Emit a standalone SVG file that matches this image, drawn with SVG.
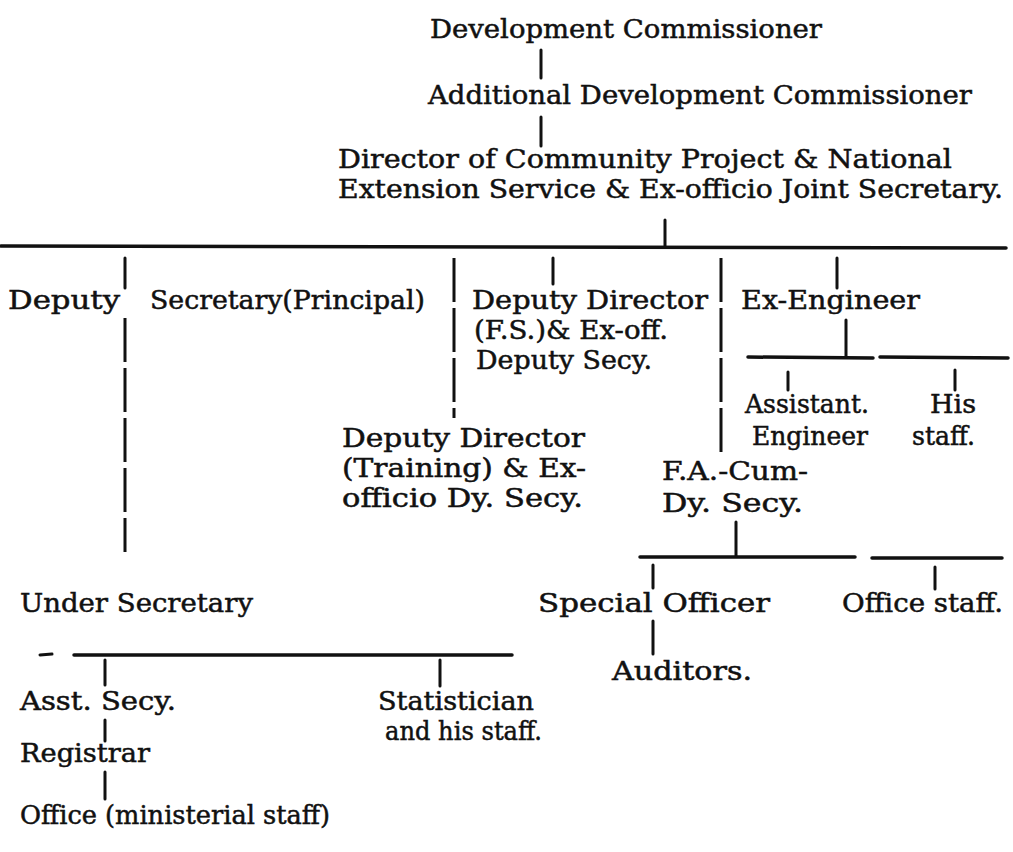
<svg xmlns="http://www.w3.org/2000/svg" width="1013" height="852" viewBox="0 0 1013 852">
<style>
text{font-family:"DejaVu Serif","Liberation Serif",serif;font-size:25.5px;fill:#111;stroke:#111;stroke-width:0.5}
.c line{stroke:#111;stroke-width:3;stroke-linecap:round}
.c .h{stroke-width:3.5}
.c .d{stroke-dasharray:44 6;stroke-linecap:butt}
</style>
<rect width="1013" height="852" fill="#fff"/>
<g class="c" id="connectors">
<line x1="541" y1="50" x2="541" y2="78"/>
<line x1="541" y1="117" x2="541" y2="146"/>
<line x1="665" y1="220" x2="665" y2="246"/>
<line class="h" x1="1" y1="246" x2="1006" y2="248"/>
<line x1="125" y1="258" x2="125" y2="288"/>
<line class="d" x1="125" y1="318" x2="125" y2="552"/>
<line class="d" x1="454" y1="258" x2="454" y2="418"/>
<line x1="553" y1="258" x2="553" y2="284"/>
<line class="d" x1="721" y1="258" x2="721" y2="456"/>
<line x1="837" y1="258" x2="837" y2="288"/>
<line x1="846" y1="320" x2="846" y2="356"/>
<line class="h" x1="748" y1="357" x2="873" y2="358"/>
<line class="h" x1="880" y1="357" x2="1008" y2="358"/>
<line x1="788" y1="372" x2="788" y2="390"/>
<line x1="955" y1="370" x2="955" y2="390"/>
<line x1="736" y1="522" x2="736" y2="556"/>
<line class="h" x1="640" y1="557" x2="855" y2="557"/>
<line class="h" x1="872" y1="558" x2="1002" y2="558"/>
<line x1="653" y1="565" x2="653" y2="588"/>
<line x1="935" y1="567" x2="935" y2="589"/>
<line x1="653" y1="621" x2="653" y2="654"/>
<line x1="40" y1="655" x2="52" y2="654"/>
<line class="h" x1="74" y1="655" x2="512" y2="655"/>
<line x1="105" y1="660" x2="105" y2="685"/>
<line x1="440" y1="660" x2="440" y2="686"/>
<line x1="105" y1="720" x2="105" y2="741"/>
<line x1="105" y1="772" x2="105" y2="799"/>
</g>
<g id="dev-commissioner"><text x="430" y="38" textLength="392" lengthAdjust="spacingAndGlyphs">Development Commissioner</text></g>
<g id="add-dev-commissioner"><text x="428" y="104" textLength="544" lengthAdjust="spacingAndGlyphs">Additional Development Commissioner</text></g>
<g id="director"><text x="338" y="168" textLength="614" lengthAdjust="spacingAndGlyphs">Director of Community Project &amp; National</text>
<text x="338" y="198" textLength="665" lengthAdjust="spacingAndGlyphs">Extension Service &amp; Ex-officio Joint Secretary.</text></g>
<g id="deputy-secretary"><text y="309"><tspan x="8" textLength="112" lengthAdjust="spacingAndGlyphs">Deputy</tspan><tspan x="150" textLength="275" lengthAdjust="spacingAndGlyphs">Secretary(Principal)</tspan></text></g>
<g id="deputy-director-fs"><text x="472" y="309" textLength="236" lengthAdjust="spacingAndGlyphs">Deputy Director</text>
<text x="474" y="339" textLength="194" lengthAdjust="spacingAndGlyphs">(F.S.)&amp; Ex-off.</text>
<text x="476" y="369" textLength="176" lengthAdjust="spacingAndGlyphs">Deputy Secy.</text></g>
<g id="ex-engineer"><text x="741" y="309" textLength="179" lengthAdjust="spacingAndGlyphs">Ex-Engineer</text></g>
<g id="assistant-engineer"><text x="745" y="413" textLength="124" lengthAdjust="spacingAndGlyphs">Assistant.</text>
<text x="752" y="445" textLength="116" lengthAdjust="spacingAndGlyphs">Engineer</text></g>
<g id="his-staff"><text x="930" y="413" textLength="46" lengthAdjust="spacingAndGlyphs">His</text>
<text x="912" y="445" textLength="63" lengthAdjust="spacingAndGlyphs">staff.</text></g>
<g id="deputy-director-training"><text x="342" y="447" textLength="243" lengthAdjust="spacingAndGlyphs">Deputy Director</text>
<text x="342" y="477" textLength="244" lengthAdjust="spacingAndGlyphs">(Training) &amp; Ex-</text>
<text x="342" y="507" textLength="241" lengthAdjust="spacingAndGlyphs">officio Dy. Secy.</text></g>
<g id="fa-cum-dy-secy"><text x="662" y="480" textLength="146" lengthAdjust="spacingAndGlyphs">F.A.-Cum-</text>
<text x="662" y="512" textLength="141" lengthAdjust="spacingAndGlyphs">Dy. Secy.</text></g>
<g id="under-secretary"><text x="20" y="612" textLength="233" lengthAdjust="spacingAndGlyphs">Under Secretary</text></g>
<g id="special-officer"><text x="538" y="612" textLength="232" lengthAdjust="spacingAndGlyphs">Special Officer</text></g>
<g id="office-staff"><text x="842" y="612" textLength="161" lengthAdjust="spacingAndGlyphs">Office staff.</text></g>
<g id="auditors"><text x="612" y="680" textLength="140" lengthAdjust="spacingAndGlyphs">Auditors.</text></g>
<g id="asst-secy"><text x="20" y="710" textLength="156" lengthAdjust="spacingAndGlyphs">Asst. Secy.</text></g>
<g id="statistician"><text x="378" y="710" textLength="156" lengthAdjust="spacingAndGlyphs">Statistician</text>
<text x="385" y="740" textLength="157" lengthAdjust="spacingAndGlyphs">and his staff.</text></g>
<g id="registrar"><text x="20" y="762" textLength="130" lengthAdjust="spacingAndGlyphs">Registrar</text></g>
<g id="office-ministerial"><text x="20" y="824" textLength="310" lengthAdjust="spacingAndGlyphs">Office (ministerial staff)</text></g>
</svg>
